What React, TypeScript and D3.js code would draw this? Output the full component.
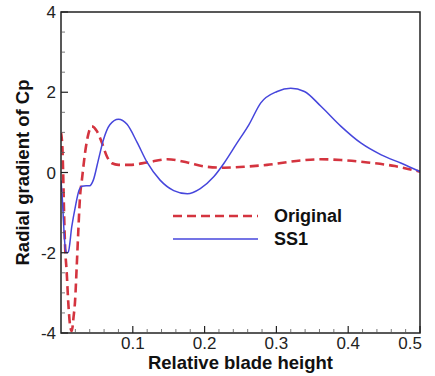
import React from "react";
import * as d3 from "d3";

const W = 435;
const H = 376;

const xMajorTicks = [0.1, 0.2, 0.3, 0.4, 0.5];
const xTickLabels = ["0.1", "0.2", "0.3", "0.4", "0.5"];
const yMajorTicks = [4, 2, 0, -2, -4];
const yTickLabels = ["4", "2", "0", "-2", "-4"];

const seriesNames = ["Original", "SS1"];

const originalX = [0, 0.002, 0.003, 0.004, 0.0056, 0.008, 0.01, 0.0126, 0.015, 0.0175, 0.0196, 0.022, 0.024, 0.0265, 0.029, 0.0336, 0.038, 0.043, 0.05, 0.057, 0.064, 0.071, 0.08, 0.096, 0.12, 0.148, 0.176, 0.2, 0.227, 0.26, 0.287, 0.334, 0.362, 0.39, 0.427, 0.465, 0.5];
const originalY = [1.0, 0.6, 0.0, -0.8, -1.8, -2.5, -3.2, -3.8, -3.95, -3.6, -3.2, -2.3, -1.5, -0.6, -0.2, 0.5, 0.95, 1.15, 1.03, 0.74, 0.4, 0.23, 0.19, 0.19, 0.25, 0.33, 0.25, 0.15, 0.12, 0.15, 0.19, 0.3, 0.33, 0.31, 0.25, 0.16, 0.02];

const ss1X = [0, 0.002, 0.004, 0.006, 0.008, 0.0102, 0.015, 0.02, 0.025, 0.029, 0.035, 0.04, 0.045, 0.052, 0.059, 0.068, 0.08, 0.092, 0.106, 0.12, 0.138, 0.157, 0.176, 0.194, 0.213, 0.227, 0.245, 0.262, 0.278, 0.301, 0.32, 0.339, 0.362, 0.39, 0.418, 0.446, 0.474, 0.5];
const ss1Y = [-0.2, -0.7, -1.4, -1.9, -2.0, -1.98, -1.35, -0.85, -0.45, -0.34, -0.33, -0.33, -0.19, 0.31, 0.81, 1.19, 1.33, 1.2, 0.75, 0.25, -0.19, -0.45, -0.53, -0.4, -0.1, 0.23, 0.73, 1.2, 1.73, 2.02, 2.1, 2.02, 1.65, 1.15, 0.73, 0.44, 0.23, 0.02];

const left = 61;
const right = 420;
const top = 12;
const bottom = 333;

export default function App() {
  const x = d3.scaleLinear().domain([0, 0.5]).range([left, right]);
  const y = d3.scaleLinear().domain([-4, 4]).range([bottom, top]);

  const line = d3
    .line<[number, number]>()
    .x((d) => x(d[0]))
    .y((d) => y(d[1]))
    .curve(d3.curveMonotoneX);

  const origPts: [number, number][] = originalX.map((v, i) => [v, originalY[i]]);
  const ssPts: [number, number][] = ss1X.map((v, i) => [v, ss1Y[i]]);

  const xMinor = d3.range(0.02, 0.5, 0.02).filter((v) => Math.abs(v * 10 - Math.round(v * 10)) > 1e-6);
  const yMinor = d3.range(-3.5, 4, 0.5).filter((v) => Math.abs(v / 2 - Math.round(v / 2)) > 1e-6);

  const red = "#d4343f";
  const blue = "#4646dc";
  const font = "Arial, 'Liberation Sans', sans-serif";

  return (
    <svg width={W} height={H} style={{ position: "absolute", left: 0, top: 0, background: "#fff" }}>
      <defs>
        <clipPath id="plotclip">
          <rect x={left} y={top} width={right - left} height={bottom - top} />
        </clipPath>
      </defs>
      <rect x={0} y={0} width={W} height={H} fill="#fff" />
      <g clipPath="url(#plotclip)">
        <path d={line(origPts) || ""} fill="none" stroke={red} strokeWidth={2.6} strokeDasharray="9,5" />
        <path d={line(ssPts) || ""} fill="none" stroke={blue} strokeWidth={1.5} />
      </g>
      {/* frame */}
      <rect x={left} y={top} width={right - left} height={bottom - top} fill="none" stroke="#222" strokeWidth={1.5} />
      {/* x ticks */}
      {xMajorTicks.map((t) => (
        <line key={"xt" + t} x1={x(t)} x2={x(t)} y1={bottom} y2={bottom - 7} stroke="#222" strokeWidth={1.2} />
      ))}
      {xMinor.map((t) => (
        <line key={"xm" + t} x1={x(t)} x2={x(t)} y1={bottom} y2={bottom - 4} stroke="#555" strokeWidth={0.8} />
      ))}
      {yMajorTicks.map((t) => (
        <line key={"yt" + t} x1={left} x2={left + 7} y1={y(t)} y2={y(t)} stroke="#222" strokeWidth={1.2} />
      ))}
      {yMinor.map((t) => (
        <line key={"ym" + t} x1={left} x2={left + 4} y1={y(t)} y2={y(t)} stroke="#555" strokeWidth={0.8} />
      ))}
      {/* tick labels */}
      {xMajorTicks.map((t, i) => (
        <text
          key={"xl" + t}
          x={i === xMajorTicks.length - 1 ? x(t) + 2 : x(t)}
          y={349}
          textAnchor={i === xMajorTicks.length - 1 ? "end" : "middle"}
          fontFamily={font}
          fontSize={17}
          fill="#222"
        >
          {xTickLabels[i]}
        </text>
      ))}
      {yMajorTicks.map((t, i) => (
        <text
          key={"yl" + t}
          x={left - 5}
          y={y(t) + 6}
          textAnchor="end"
          fontFamily={font}
          fontSize={17}
          fill="#222"
        >
          {yTickLabels[i]}
        </text>
      ))}
      {/* axis titles */}
      <text x={(left + right) / 2} y={369} textAnchor="middle" fontFamily={font} fontWeight="bold" fontSize={18.5} fill="#111">
        Relative blade height
      </text>
      <text
        transform={`translate(29, ${(72 + 273) / 2}) rotate(-90)`}
        textAnchor="middle"
        fontFamily={font}
        fontWeight="bold"
        fontSize={18.5}
        fill="#111"
      >
        Radial gradient of Cp
      </text>
      {/* legend */}
      <line x1={173} x2={258} y1={216} y2={216} stroke={red} strokeWidth={2.6} strokeDasharray="9,5" />
      <line x1={173} x2={258} y1={239} y2={239} stroke={blue} strokeWidth={1.5} />
      <text x={274} y={222} fontFamily={font} fontWeight="bold" fontSize={18} fill="#111">
        {seriesNames[0]}
      </text>
      <text x={274} y={245} fontFamily={font} fontWeight="bold" fontSize={18} fill="#111">
        {seriesNames[1]}
      </text>
    </svg>
  );
}
